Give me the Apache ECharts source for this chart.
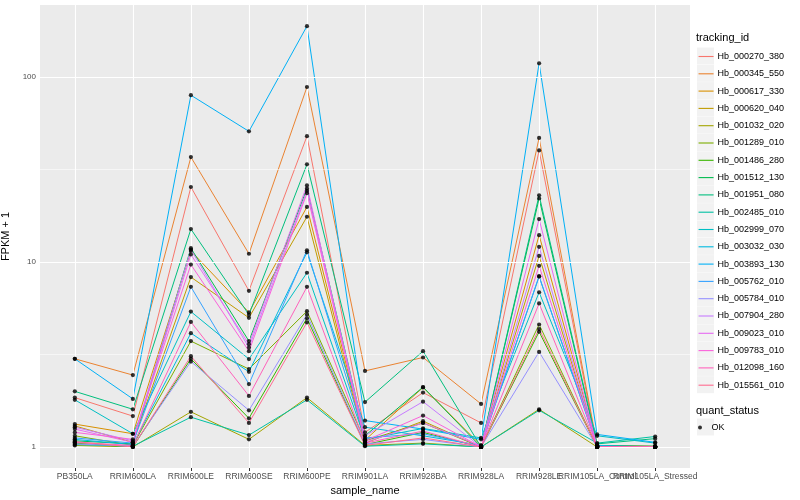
<!DOCTYPE html>
<html><head><meta charset="utf-8">
<script src="https://cdn.jsdelivr.net/npm/echarts@6/dist/echarts.min.js"></script>
<style>html,body{margin:0;padding:0;background:#fff}#c{width:800px;height:500px}</style>
</head><body><div id="c"></div>
<script>
const categories = ["PB350LA","RRIM600LA","RRIM600LE","RRIM600SE","RRIM600PE","RRIM901LA","RRIM928BA","RRIM928LA","RRIM928LE","RRIM105LA_Control","RRIM105LA_Stressed"];
const trackingIds = ["Hb_000270_380","Hb_000345_550","Hb_000617_330","Hb_000620_040","Hb_001032_020","Hb_001289_010","Hb_001486_280","Hb_001512_130","Hb_001951_080","Hb_002485_010","Hb_002999_070","Hb_003032_030","Hb_003893_130","Hb_005762_010","Hb_005784_010","Hb_007904_280","Hb_009023_010","Hb_009783_010","Hb_012098_160","Hb_015561_010"];
const colors = ["#F8766D","#EA8331","#D89000","#C09B00","#A3A500","#7CAE00","#39B600","#00BB4E","#00BF7D","#00C1A3","#00BFC4","#00BAE0","#00B0F6","#35A2FF","#9590FF","#C77CFF","#E76BF3","#FA62DB","#FF62BC","#FF6C91"];
const yTickValues = [1, 10, 100];
const yMinorBreaks = [3.1623, 31.623];

const v000270_380 = [1.85, 1.47, 25.5, 7.0, 48, 1.2, 1.97, 1.35, 40.2, 1.0, 1.0];
const v000345_550 = [3.0, 2.45, 37, 11.1, 88.6, 2.58, 3.05, 1.71, 47, 1.02, 1.01];
const v000617_330 = [1.33, 1.18, 11.5, 5.35, 19.9, 1.09, 2.1, 1.02, 14, 1.01, 1.0];
const v000620_040 = [1.3, 1.06, 8.3, 5.0, 17.6, 1.05, 1.38, 1.0, 10.8, 1.0, 1.0];
const v001032_020 = [1.02, 1.0, 1.55, 1.1, 1.85, 1.02, 1.05, 1.0, 1.6, 1.0, 1.0];
const v001289_010 = [1.15, 1.02, 3.74, 2.64, 5.43, 1.08, 1.35, 1.0, 4.6, 1.0, 1.0];
const v001486_280 = [1.05, 1.0, 3.0, 1.43, 4.97, 1.03, 1.2, 1.0, 4.2, 1.0, 1.0];
const v001512_130 = [1.08, 1.04, 11.9, 3.74, 25, 1.15, 2.11, 1.0, 22.1, 1.02, 1.01];
const v001951_080 = [2.0, 1.6, 15.1, 5.2, 33.8, 1.75, 3.3, 1.0, 23, 1.04, 1.11];
const v002485_010 = [1.03, 1.01, 1.45, 1.16, 1.8, 1.01, 1.04, 1.0, 1.58, 1.05, 1.14];
const v002999_070 = [1.8, 1.18, 5.4, 2.99, 8.76, 1.1, 1.26, 1.12, 6.87, 1.15, 1.05];
const v003032_030 = [1.1, 1.03, 4.13, 2.55, 11.3, 1.28, 1.15, 1.02, 8.35, 1.02, 1.0];
const v003893_130 = [3.0, 1.82, 80, 51, 189, 1.39, 1.25, 1.1, 119, 1.17, 1.06];
const v005762_010 = [1.12, 1.05, 7.35, 2.19, 11.6, 1.12, 1.18, 1.01, 8.4, 1.01, 1.0];
const v005784_010 = [1.04, 1.01, 2.9, 1.58, 5.2, 1.04, 1.1, 1.0, 3.27, 1.0, 1.0];
const v007904_280 = [1.28, 1.08, 11.7, 3.45, 24.3, 1.15, 1.76, 1.0, 12.1, 1.0, 1.0];
const v009023_010 = [1.25, 1.06, 11.0, 3.6, 26, 1.06, 1.35, 1.01, 17.1, 1.0, 1.0];
const v009783_010 = [1.2, 1.1, 9.7, 3.3, 23.6, 1.08, 1.48, 1.0, 9.55, 1.0, 1.0];
const v012098_160 = [1.06, 1.02, 4.75, 1.89, 7.35, 1.05, 1.22, 1.0, 5.98, 1.0, 1.0];
const v015561_010 = [1.07, 1.0, 3.1, 1.35, 4.72, 1.02, 1.12, 1.0, 4.35, 1.0, 1.0];

const seriesValues = [v000270_380,v000345_550,v000617_330,v000620_040,v001032_020,v001289_010,v001486_280,v001512_130,v001951_080,v002485_010,v002999_070,v003032_030,v003893_130,v005762_010,v005784_010,v007904_280,v009023_010,v009783_010,v012098_160,v015561_010];

const chart = echarts.init(document.getElementById('c'), null, {renderer: 'canvas'});
const FONT = 'Liberation Sans, Arial, sans-serif';

const series = [];
// panel grid lines drawn through the axes' scales
series.push({
  name: '_grid', type: 'line', data: [], z: 1, silent: true, animation: false,
  markLine: {
    silent: true, symbol: ['none', 'none'], label: {show: false}, animation: false,
    emphasis: {disabled: true},
    data: [
      ...categories.map((c, i) => ({xAxis: i, lineStyle: {color: '#fff', width: 1.1, type: 'solid'}})),
      ...yTickValues.map(v => ({yAxis: v, lineStyle: {color: '#fff', width: 1.1, type: 'solid'}})),
      ...yMinorBreaks.map(v => ({yAxis: v, lineStyle: {color: '#fff', width: 0.55, type: 'solid'}}))
    ]
  }
});
trackingIds.forEach((id, i) => series.push({
  name: id, type: 'line', symbol: 'none', z: 2, color: colors[i],
  data: seriesValues[i].map((v, j) => [j, v]),
  lineStyle: {color: colors[i], width: 1}, itemStyle: {color: colors[i]},
  emphasis: {disabled: true}, silent: true, animation: false
}));
const pts = [];
seriesValues.forEach(arr => arr.forEach((v, j) => pts.push([j, v])));
series.push({
  name: 'OK', type: 'scatter', symbol: 'circle', symbolSize: 4.2, z: 5,
  itemStyle: {color: '#000'}, data: pts, silent: true, animation: false
});

// grey legend key backgrounds
const keyRects = [];
for (let i = 0; i < trackingIds.length; i++) {
  keyRects.push({type: 'rect', left: 697, top: 47.5 + i * 17.3, shape: {width: 17, height: 17}, style: {fill: '#F2F2F2'}, z: 0});
}
keyRects.push({type: 'rect', left: 697, top: 418.5, shape: {width: 17, height: 17}, style: {fill: '#F2F2F2'}, z: 0});

const labelIdxMain = categories.map((c, i) => i).filter(i => i !== 9);
const labelIdxAlt = [9];
const xLabelStyle = {margin: 4, hideOverlap: false, fontFamily: FONT, fontSize: 8.5, color: '#4D4D4D', formatter: v => categories[Math.round(v)] || ''};

chart.setOption({
  animation: false,
  backgroundColor: '#fff',
  title: [
    {text: 'tracking_id', left: 696, top: 32, padding: 0, textStyle: {fontFamily: FONT, fontSize: 11, fontWeight: 'normal', color: '#000'}},
    {text: 'quant_status', left: 696, top: 405, padding: 0, textStyle: {fontFamily: FONT, fontSize: 11, fontWeight: 'normal', color: '#000'}}
  ],
  graphic: keyRects,
  legend: [
    {
      data: trackingIds, orient: 'vertical', left: 698, top: 52, itemWidth: 15, itemHeight: 9,
      itemGap: 8.3, selectedMode: false, padding: 0,
      itemStyle: {opacity: 0},
      lineStyle: {color: 'inherit', width: 1.1, opacity: 1},
      textStyle: {fontFamily: FONT, fontSize: 9, color: '#000', padding: [0, 0, 0, -1]}
    },
    {
      data: [{name: 'OK', icon: 'circle'}], orient: 'vertical', left: 698, top: 423, itemWidth: 15, itemHeight: 4,
      selectedMode: false, padding: 0,
      textStyle: {fontFamily: FONT, fontSize: 9, color: '#000', padding: [0, 0, 0, -1]}
    }
  ],
  grid: {left: 40, right: 110, top: 5, bottom: 32, show: true, backgroundColor: '#EBEBEB', borderWidth: 0, containLabel: false, outerBoundsMode: 'none'},
  xAxis: [{
    type: 'value', min: -0.6, max: 10.6, position: 'bottom',
    name: 'sample_name', nameLocation: 'middle', nameGap: 14,
    nameTextStyle: {fontFamily: FONT, fontSize: 11, color: '#000'},
    axisLine: {show: false},
    axisTick: {show: true, length: 3, lineStyle: {color: '#333', width: 1}, customValues: categories.map((c, i) => i)},
    axisLabel: Object.assign({customValues: labelIdxMain, showMinLabel: true, showMaxLabel: true}, xLabelStyle),
    splitLine: {show: false}
  }, {
    type: 'value', min: -0.6, max: 10.6, position: 'bottom', offset: 0,
    axisLine: {show: false}, axisTick: {show: false},
    axisLabel: Object.assign({customValues: labelIdxAlt, showMinLabel: true, showMaxLabel: true}, xLabelStyle),
    splitLine: {show: false}
  }],
  yAxis: {
    type: 'log', logBase: 10, min: 0.77, max: 246,
    name: 'FPKM + 1', nameLocation: 'middle', nameGap: 26, nameRotate: 90,
    nameTextStyle: {fontFamily: FONT, fontSize: 11, color: '#000'},
    axisLine: {show: false},
    axisTick: {show: true, length: 3, lineStyle: {color: '#333', width: 1}, customValues: yTickValues},
    axisLabel: {customValues: yTickValues, margin: 4, fontFamily: FONT, fontSize: 8, color: '#4D4D4D', formatter: v => String(Math.round(v))},
    splitLine: {show: false}
  },
  series: series
});
</script></body></html>
